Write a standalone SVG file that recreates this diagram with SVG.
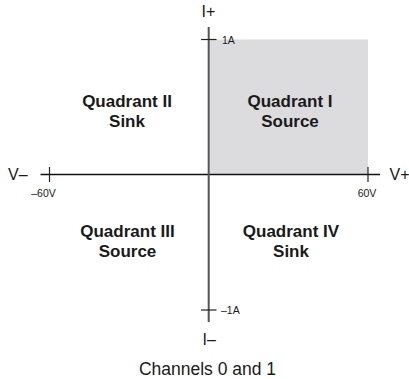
<svg xmlns="http://www.w3.org/2000/svg" width="409" height="379" viewBox="0 0 409 379">
<style>
.ax{font-family:"Liberation Sans",Arial,sans-serif;font-size:16px;fill:#1a1a1a}
.sm{font-family:"Liberation Sans",Arial,sans-serif;font-size:10.5px;fill:#1a1a1a}
.q{font-family:"Liberation Sans",Arial,sans-serif;font-size:17px;font-weight:bold;fill:#1a1a1a;text-anchor:middle}
.cap{font-family:"Liberation Sans",Arial,sans-serif;font-size:17.5px;fill:#1a1a1a;text-anchor:middle}
.tick{stroke:#222;stroke-width:1.2;fill:none}
</style>
<rect width="409" height="379" fill="#ffffff"/>
<g id="quadrant-fill">
<rect x="209.5" y="39.5" width="158.5" height="134.5" fill="#dcdcde"/>
</g>
<g id="connectors">
<line x1="40.5" y1="174.5" x2="380" y2="174.5" stroke="#111" stroke-width="1.3"/>
<line x1="208.7" y1="27" x2="208.7" y2="322" stroke="#555" stroke-width="2"/>
<line class="tick" x1="201" y1="39.5" x2="216.5" y2="39.5"/>
<line class="tick" x1="201" y1="310" x2="216.5" y2="310"/>
<line class="tick" x1="49.5" y1="167" x2="49.5" y2="182"/>
<line class="tick" x1="368" y1="167" x2="368" y2="182"/>
</g>
<g id="axis-labels">
<text class="ax" x="201.5" y="17">I+</text>
<text class="ax" x="202.5" y="345">I–</text>
<text class="ax" x="8" y="179.5">V–</text>
<text class="ax" x="389.5" y="179.5">V+</text>
<text class="sm" x="222" y="44">1A</text>
<text class="sm" x="221" y="314">–1A</text>
<text class="sm" x="43.5" y="197" text-anchor="middle">–60V</text>
<text class="sm" x="367" y="197" text-anchor="middle">60V</text>
</g>
<g id="q1"><text class="q" x="290" y="107">Quadrant I</text><text class="q" x="290" y="127">Source</text></g>
<g id="q2"><text class="q" x="127" y="107">Quadrant II</text><text class="q" x="127" y="127">Sink</text></g>
<g id="q3"><text class="q" x="127.5" y="237">Quadrant III</text><text class="q" x="127.5" y="257">Source</text></g>
<g id="q4"><text class="q" x="291" y="237">Quadrant IV</text><text class="q" x="291" y="257">Sink</text></g>
<g id="caption"><text class="cap" x="207.5" y="375">Channels 0 and 1</text></g>
</svg>
